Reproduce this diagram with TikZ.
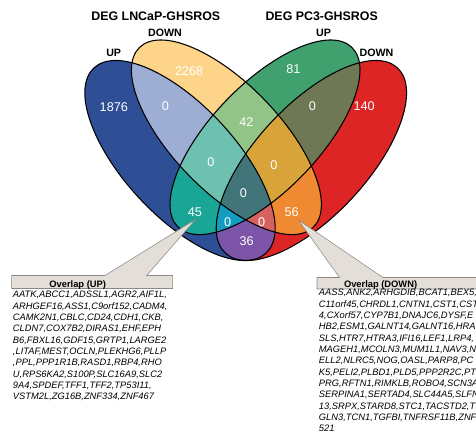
\documentclass[tikz,border=0pt]{standalone}
\usepackage{fontspec}
\setmainfont{Liberation Sans}
\usepackage{tikz}
\tikzset{>=latex}
\definecolor{cLU}{HTML}{2E4F96}
\definecolor{cLD}{HTML}{FDD48A}
\definecolor{cPU}{HTML}{40A06E}
\definecolor{cPD}{HTML}{DE2526}
\definecolor{cLULD}{HTML}{9EADD4}
\definecolor{cLUPU}{HTML}{1AA696}
\definecolor{cLUPD}{HTML}{7C55A8}
\definecolor{cLDPU}{HTML}{91C486}
\definecolor{cLDPD}{HTML}{F08A32}
\definecolor{cPUPD}{HTML}{6E7854}
\definecolor{cLULDPU}{HTML}{6EC0B0}
\definecolor{cLULDPD}{HTML}{D66260}
\definecolor{cLUPUPD}{HTML}{129CC0}
\definecolor{cLDPUPD}{HTML}{D8A43A}
\definecolor{cAll}{HTML}{41757A}
\definecolor{boxfill}{HTML}{E3DED8}
\definecolor{boxline}{HTML}{8C8885}
\newcommand{\ellLU}{(180,160.5) ellipse [x radius=94.8pt, y radius=41.6pt]}
\newcommand{\ellLD}{(226.4,137.3) ellipse [x radius=93.75pt, y radius=40.1pt]}
\newcommand{\ellPU}{(265,137.3) ellipse [x radius=93.75pt, y radius=40.1pt]}
\newcommand{\ellPD}{(311.4,160.5) ellipse [x radius=94.8pt, y radius=41.6pt]}

\begin{document}
\begin{tikzpicture}[x=0.75pt,y=-0.75pt,
	rotLU/.style={rotate around={-47.1:(180,160.5)}},
	rotLD/.style={rotate around={-46:(226.4,137.3)}},
	rotPU/.style={rotate around={46:(265,137.3)}},
	rotPD/.style={rotate around={47.1:(311.4,160.5)}},
	outline/.style={draw=black, line width=0.8pt},
	num/.style={text=white, font=\fontsize{9.5}{11}\selectfont, inner sep=0pt, text depth=0pt},
	title/.style={font=\bfseries\fontsize{9.3}{11}\selectfont, inner sep=0pt, anchor=base},
	setlabel/.style={font=\bfseries\fontsize{8}{9}\selectfont, inner sep=0pt, text depth=0pt},
	callout/.style={fill=boxfill, draw=boxline, line width=0.4pt},
	header/.style={font=\bfseries\fontsize{7}{8.5}\selectfont, inner sep=0pt, anchor=base},
	genes/.style={font=\itshape\fontsize{7}{8.5}\selectfont, align=left, inner sep=0pt, anchor=north west}]
	\useasboundingbox (0,0) rectangle (476,434);
	\clip (0,0) rectangle (476,434);
	\fill[cLU, rotLU] \ellLU;
	\fill[cLD, rotLD] \ellLD;
	\fill[cPU, rotPU] \ellPU;
	\fill[cPD, rotPD] \ellPD;
	\begin{scope}
		\clip[rotLU] \ellLU;
		\fill[cLULD, rotLD] \ellLD;
		\fill[cLUPU, rotPU] \ellPU;
		\fill[cLUPD, rotPD] \ellPD;
	\end{scope}
	\begin{scope}
		\clip[rotLD] \ellLD;
		\fill[cLDPU, rotPU] \ellPU;
		\fill[cLDPD, rotPD] \ellPD;
	\end{scope}
	\begin{scope}
		\clip[rotPU] \ellPU;
		\fill[cPUPD, rotPD] \ellPD;
	\end{scope}
	\begin{scope}
		\clip[rotLU] \ellLU;
		\clip[rotLD] \ellLD;
		\fill[cLULDPU, rotPU] \ellPU;
		\fill[cLULDPD, rotPD] \ellPD;
	\end{scope}
	\begin{scope}
		\clip[rotLU] \ellLU;
		\clip[rotPU] \ellPU;
		\fill[cLUPUPD, rotPD] \ellPD;
	\end{scope}
	\begin{scope}
		\clip[rotLD] \ellLD;
		\clip[rotPU] \ellPU;
		\fill[cLDPUPD, rotPD] \ellPD;
	\end{scope}
	\begin{scope}
		\clip[rotLU] \ellLU;
		\clip[rotLD] \ellLD;
		\clip[rotPU] \ellPU;
		\fill[cAll, rotPD] \ellPD;
	\end{scope}
	\draw[outline, rotLU] \ellLU;
	\draw[outline, rotLD] \ellLD;
	\draw[outline, rotPU] \ellPU;
	\draw[outline, rotPD] \ellPD;

	\node[title] (tLN) at (155.8,21) {DEG LNCaP-GHSROS};
	\node[title] (tPC) at (321.7,21) {DEG PC3-GHSROS};
	\node[setlabel] (sLU) at (113.7,52.5) {UP};
	\node[setlabel] (sLD) at (165,33) {DOWN};
	\node[setlabel] (sPU) at (323.5,33) {UP};
	\node[setlabel] (sPD) at (376.5,53) {DOWN};

	\node[num] (n1876) at (113.8,106.7) {1876};
	\node[num] (nLULD) at (165.3,106) {0};
	\node[num] (n2268) at (189.2,70.7) {2268};
	\node[num] (n81) at (293.3,69.3) {81};
	\node[num] (nPUPD) at (312.3,106) {0};
	\node[num] (n140) at (364.2,106) {140};
	\node[num] (n42) at (246.5,122) {42};
	\node[num] (nLULDPU) at (211,161.7) {0};
	\node[num] (nLDPUPD) at (274,165) {0};
	\node[num] (nAll) at (243.3,193.5) {0};
	\node[num] (n45) at (195,211.7) {45};
	\node[num] (n56) at (291.7,211.7) {56};
	\node[num] (nLUPUPD) at (227.7,221.7) {0};
	\node[num] (nLULDPD) at (261.7,221.7) {0};
	\node[num] (n36) at (246.7,241.5) {36};

	\draw[callout] (11.7,275.5) -- (105,275.5) -- (195.5,219.5) -- (146.7,275.5) -- (172.7,275.5) -- (172.7,288.5) -- (11.7,288.5) -- cycle;
	\draw[callout] (317,277.5) -- (339.5,277.5) -- (298.3,220) -- (383,277.5) -- (480,277.5) -- (480,289) -- (317,289) -- cycle;
	\node[header] (hUp) at (77.7,287.3) {Overlap (UP)};
	\node[header] (hDown) at (380.6,287.3) {Overlap (DOWN)};
	\node[genes] (gUp) at (12.7,291) {AATK,ABCC1,ADSSL1,AGR2,AIF1L,\\
		ARHGEF16,ASS1,C9orf152,CADM4,\\
		CAMK2N1,CBLC,CD24,CDH1,CKB,\\
		CLDN7,COX7B2,DIRAS1,EHF,EPH\\
		B6,FBXL16,GDF15,GRTP1,LARGE2\\
		,LITAF,MEST,OCLN,PLEKHG6,PLLP\\
		,PPL,PPP1R1B,RASD1,RBP4,RHO\\
		U,RPS6KA2,S100P,SLC16A9,SLC2\\
		9A4,SPDEF,TFF1,TFF2,TP53I11,\\
		VSTM2L,ZG16B,ZNF334,ZNF467};
	\node[genes] (gDown) at (318.7,289) {AASS,ANK2,ARHGDIB,BCAT1,BEX5,\\
		C11orf45,CHRDL1,CNTN1,CST1,CST\\
		4,CXorf57,CYP7B1,DNAJC6,DYSF,E\\
		HB2,ESM1,GALNT14,GALNT16,HRA\\
		SLS,HTR7,HTRA3,IFI16,LEF1,LRP4,\\
		MAGEH1,MCOLN3,MUM1L1,NAV3,N\\
		ELL2,NLRC5,NOG,OASL,PARP8,PC\\
		K5,PELI2,PLBD1,PLD5,PPP2R2C,PT\\
		PRG,RFTN1,RIMKLB,ROBO4,SCN3A\\
		SERPINA1,SERTAD4,SLC44A5,SLFN\\
		13,SRPX,STARD8,STC1,TACSTD2,T\\
		GLN3,TCN1,TGFBI,TNFRSF11B,ZNF\\
		521};
\end{tikzpicture}
\end{document}
